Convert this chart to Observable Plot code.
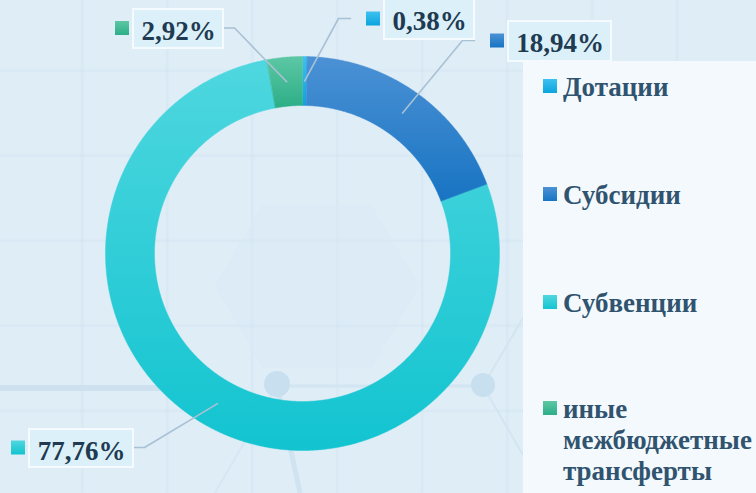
<!DOCTYPE html>
<html>
<head>
<meta charset="utf-8">
<script src="https://cdn.jsdelivr.net/npm/d3@7"></script>
<script src="https://cdn.jsdelivr.net/npm/@observablehq/plot@0.6"></script>
<style>
  body { margin: 0; }
  #wrap {
    position: relative; width: 756px; height: 493px; overflow: hidden;
    background-color: #dfedf7;
    background-image:
      repeating-linear-gradient(90deg, rgba(190,215,232,0.0) 0px, rgba(190,215,232,0.0) 80px, rgba(190,215,232,0.22) 82px, rgba(190,215,232,0.0) 85px),
      repeating-linear-gradient(0deg, rgba(190,215,232,0.0) 0px, rgba(190,215,232,0.0) 80px, rgba(190,215,232,0.2) 82px, rgba(190,215,232,0.0) 85px);
    font-family: 'Liberation Serif', 'Times New Roman', serif;
  }
  #bg, #chart { position: absolute; left: 0; top: 0; }
  #legend {
    position: absolute; left: 523px; top: 61px; width: 233px; height: 432px;
    background: #f4f9fd;
  }
  .item { position: absolute; left: 20px; width: 213px; }
  .sw { position: absolute; left: 0; width: 14px; height: 14px; }
  .lt {
    position: absolute; left: 20px; width: 193px;
    font-family: 'Liberation Serif', 'Times New Roman', serif;
    font-size: 27px; line-height: 31px; font-weight: bold; color: #30546f;
  }
</style>
</head>
<body>
<div id="wrap">
  <svg id="bg" width="756" height="493">
    <polygon points="215,286 262,205 372,205 420,286 372,368 262,368" fill="#d8e9f4" opacity="0.3"/>
    <line x1="0" y1="388" x2="160" y2="388" stroke="#cde1ef" stroke-width="6"/>
    <line x1="277" y1="386" x2="483" y2="386" stroke="#d2e5f2" stroke-width="3"/>
    <line x1="277" y1="386" x2="300" y2="493" stroke="#d0e3f0" stroke-width="5"/>
    <line x1="277" y1="386" x2="215" y2="493" stroke="#d6e7f3" stroke-width="2"/>
    <line x1="483" y1="386" x2="523" y2="318" stroke="#d3e5f1" stroke-width="2"/>
    <line x1="483" y1="386" x2="523" y2="455" stroke="#d3e5f1" stroke-width="2"/>
    <circle cx="277" cy="384" r="13" fill="#c8dff0"/>
    <circle cx="483" cy="385" r="12" fill="#c8dff0"/>
  </svg>
  <div id="chart"></div>
  <div id="legend"></div>
</div>
<script>
// ---------- data ----------
const categories = ["Дотации", "Субсидии", "Субвенции", "иные межбюджетные трансферты"];
const shares = [0.38, 18.94, 77.76, 2.92];
const shareLabels = ["0,38%", "18,94%", "77,76%", "2,92%"];

// ---------- styles ----------
const colorTop = ["#3ec1ef", "#4b91d5", "#4fd7df", "#5dc7a4"];
const colorBottom = ["#0aa5df", "#1874c2", "#12c4d0", "#2cae87"];

// ---------- layout (pixels) ----------
const W = 756, H = 493;
const cx = 302, cy = 253, rIn = 148, rOut = 197;
// label boxes: [x1, y1, x2, y2], leader side
const labelBoxes = [
  {x1: 384, y1: -1, x2: 474, y2: 39, side: "left"},
  {x1: 508, y1: 21, x2: 611, y2: 61, side: "left"},
  {x1: 29, y1: 429, x2: 133, y2: 467, side: "right"},
  {x1: 133, y1: 9, x2: 223, y2: 48, side: "right"}
];
const legendTops = [11, 119, 227, 333];

// ---------- geometry from data ----------
const arcs = d3.pie().sort(null).value(d => d)(shares);
const ringPts = arcs.map((a, i) => {
  const n = Math.max(4, Math.ceil((a.endAngle - a.startAngle) / 0.005));
  const pts = [];
  for (let k = 0; k <= n; k++) {
    const t = a.startAngle + (a.endAngle - a.startAngle) * k / n;
    pts.push({i, x: rOut * Math.sin(t), y: -rOut * Math.cos(t)});
  }
  for (let k = n; k >= 0; k--) {
    const t = a.startAngle + (a.endAngle - a.startAngle) * k / n;
    pts.push({i, x: rIn * Math.sin(t), y: -rIn * Math.cos(t)});
  }
  return pts;
});

const labels = labelBoxes.map((b, i) => {
  const u = v => v - cx, w = v => v - cy;
  const cyb = (b.y1 + b.y2) / 2;
  const end = b.side === "right" ? b.x2 : b.x1 - 34;
  const elbow = b.side === "right" ? end + 11 : end - 12;
  const m = (arcs[i].startAngle + arcs[i].endAngle) / 2, rm = (rIn + rOut) / 2;
  return {
    i, text: shareLabels[i],
    x1: u(b.x1), x2: u(b.x2), y1: w(b.y1), y2: w(b.y2),
    tx: u((b.x1 + b.x2) / 2), ty: w(b.y1 + 30),
    mx1: u(b.x1 - 18), mx2: u(b.x1 - 4), my1: w(cyb - 7.5), my2: w(cyb + 6.5),
    leader: [
      {i, x: rm * Math.sin(m), y: -rm * Math.cos(m)},
      {i, x: u(elbow), y: w(cyb - 1)},
      {i, x: u(end), y: w(cyb - 1)}
    ]
  };
});

const defs = () => {
  const ns = "http://www.w3.org/2000/svg";
  const d = document.createElementNS(ns, "defs");
  colorTop.forEach((c, i) => {
    const g = document.createElementNS(ns, "linearGradient");
    g.setAttribute("id", "g" + i);
    g.setAttribute("x1", "0"); g.setAttribute("y1", "0");
    g.setAttribute("x2", "0"); g.setAttribute("y2", "1");
    [[0, c], [1, colorBottom[i]]].forEach(([o, col]) => {
      const s = document.createElementNS(ns, "stop");
      s.setAttribute("offset", o); s.setAttribute("stop-color", col);
      g.appendChild(s);
    });
    d.appendChild(g);
  });
  return d;
};

const font = "'Liberation Serif', 'Times New Roman', serif";

const chart = Plot.plot({
  width: W, height: H, margin: 0,
  style: {background: "transparent", overflow: "visible", fontFamily: font},
  x: {domain: [-cx, W - cx], range: [0, W], axis: null},
  y: {domain: [-cy, H - cy], range: [0, H], axis: null},
  marks: [
    defs,
    ...ringPts.map((pts, i) => Plot.line(pts, {x: "x", y: "y", fill: `url(#g${i})`, stroke: `url(#g${i})`, strokeWidth: 0.5, curve: "linear-closed"})),
    Plot.line(labels.flatMap(l => l.leader), {x: "x", y: "y", z: "i", stroke: "#a9c1d5", strokeWidth: 1.6}),
    Plot.rect(labels, {x1: "x1", x2: "x2", y1: "y1", y2: "y2", fill: "#dcf0fa", stroke: "#f4fafe", strokeWidth: 2}),
    ...labels.map(l => Plot.rect([l], {x1: "mx1", x2: "mx2", y1: "my1", y2: "my2", fill: `url(#g${l.i})`})),
    Plot.text(labels, {x: "tx", y: "ty", text: "text", fontSize: 27, fontWeight: "bold", fontFamily: font, fill: "#203b51", lineAnchor: "bottom", textAnchor: "middle"})
  ]
});
document.getElementById("chart").appendChild(chart);

// ---------- legend ----------
const legend = document.getElementById("legend");
categories.forEach((c, i) => {
  const item = document.createElement("div");
  item.className = "item";
  item.style.top = legendTops[i] + "px";
  const sw = document.createElement("div");
  sw.className = "sw";
  sw.style.top = "7px";
  sw.style.background = `linear-gradient(${colorTop[i]}, ${colorBottom[i]})`;
  const t = document.createElement("div");
  t.className = "lt";
  t.textContent = c;
  item.appendChild(sw); item.appendChild(t);
  legend.appendChild(item);
});
</script>
</body>
</html>
